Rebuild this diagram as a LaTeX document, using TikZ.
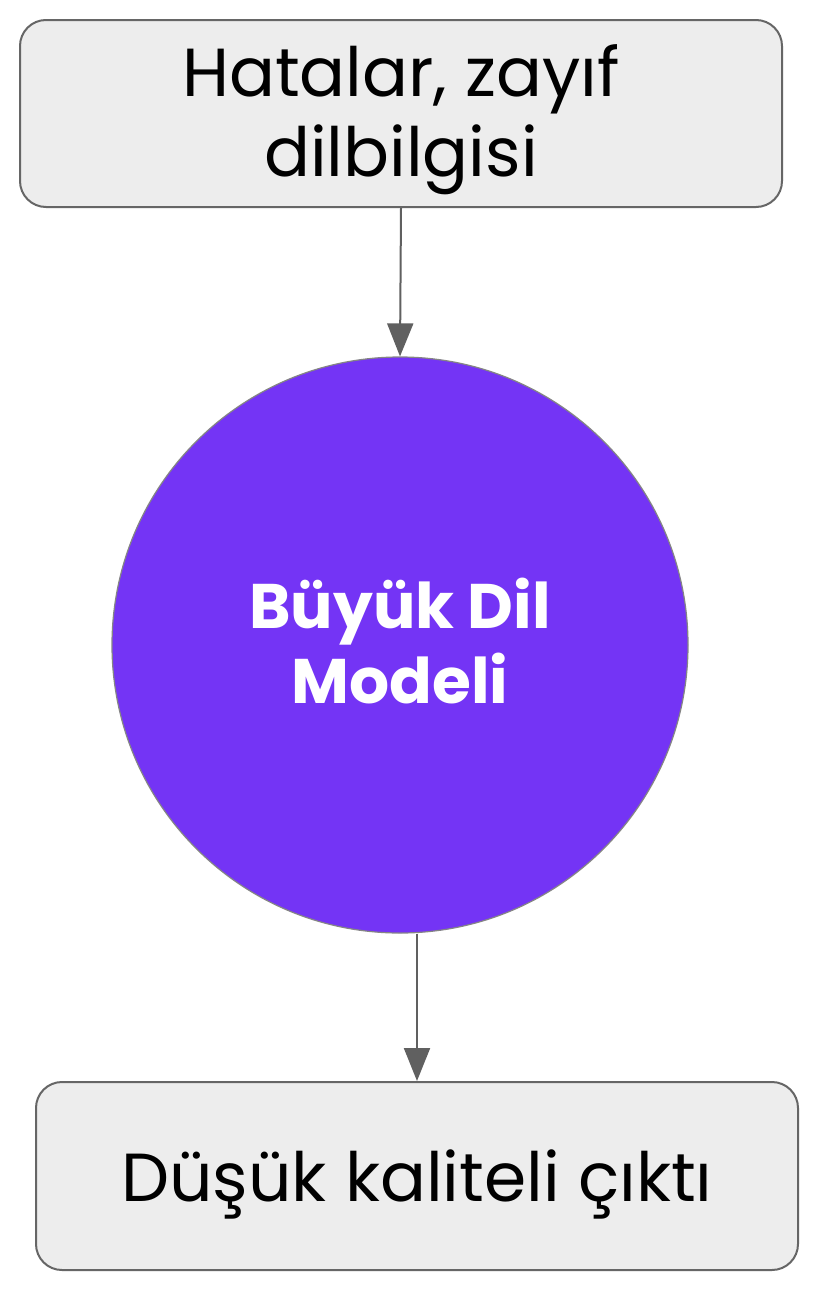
\documentclass[tikz,border=0pt]{standalone}
\usepackage{fontspec}
\setmainfont{Poppins}
\usetikzlibrary{arrows.meta}
\definecolor{boxfill}{HTML}{EDEDED}
\definecolor{boxline}{HTML}{666666}
\definecolor{purp}{HTML}{7434F5}
\definecolor{arr}{HTML}{606060}
\tikzset{
  grbox/.style={draw=boxline, line width=2pt, fill=boxfill, rounded corners=26pt,
    minimum width=762pt, inner sep=0pt},
  boxtext/.style={align=center, font=\fontsize{68}{80}\selectfont, inner sep=0pt},
  bigcirc/.style={circle, draw=boxline!80, line width=1.2pt, fill=purp, minimum size=576pt,
    inner sep=0pt},
  circtext/.style={text=white, align=center, font=\bfseries\fontsize{63}{75}\selectfont, inner sep=0pt},
  conn/.style={draw=arr, line width=2pt, -{Triangle[length=33pt,width=26pt]}}
}
\begin{document}
\begin{tikzpicture}[x=1pt,y=-1pt]
\useasboundingbox[fill=white] (0,0) rectangle (816,1296);
\node[grbox, minimum height=187pt] (top) at (401,113.5) {};
\node[boxtext] (toptext) at ([yshift=-6pt]top.center) {Hatalar, zayıf\\dilbilgisi};
\node[bigcirc] (llm) at (400,645) {};
\node[circtext] (llmtext) at ([yshift=4pt]llm.center) {Büyük Dil\\Modeli};
\node[grbox, minimum height=188pt] (bot) at (417,1176) {};
\node[boxtext] (bottext) at ([yshift=-8pt]bot.center) {Düşük kaliteli çıktı};
\draw[conn] (top.south) -- (llm.north);
\draw[conn] (llm.south -| bot.north) -- (bot.north);
\end{tikzpicture}
\end{document}
